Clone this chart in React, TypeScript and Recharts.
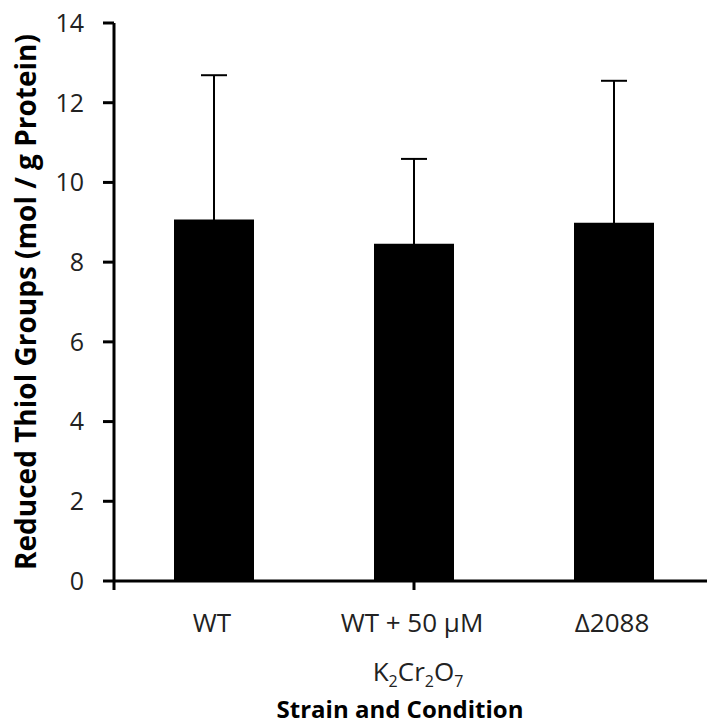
import React from "react";
import { BarChart, Bar, XAxis, YAxis, ErrorBar } from "recharts";

const categories = ["WT", "WT + 50 \u00b5M", "\u03942088"];
const secondLines = ["", "K2Cr2O7", ""];
const values = [9.07, 8.46, 8.99];
const upperBounds = [12.69, 10.59, 12.55];
const yTicks = [0, 2, 4, 6, 8, 10, 12, 14];
const edgeTicks = [0, 1, 2, 3];

const data = categories.map((c, i) => ({
  name: c,
  line2: secondLines[i],
  value: values[i],
  err: upperBounds[i] - values[i],
}));

const FONT = "'Open Sans', Lato, sans-serif";
const TEXT = "#222";

const EmptyTick = () => <g />;

const XTick = (props: any) => {
  const { x, y, payload, index } = props;
  const l2 = secondLines[index];
  return (
    <g>
      <text x={x - 2} y={y + 51} textAnchor="middle" fontFamily={FONT} fontSize={26} fill={TEXT}>
        {payload.value}
      </text>
      {l2 ? (
        <text x={x + 4} y={y + 100} textAnchor="middle" fontFamily={FONT} fontSize={26} fill={TEXT}>
          <tspan>K</tspan>
          <tspan fontSize={16} dy={6}>2</tspan>
          <tspan dy={-6}>Cr</tspan>
          <tspan fontSize={16} dy={6}>2</tspan>
          <tspan dy={-6}>O</tspan>
          <tspan fontSize={16} dy={6}>7</tspan>
        </text>
      ) : null}
    </g>
  );
};

const XTitle = (props: any) => {
  const vb = props.viewBox || {};
  const cx = vb.x + vb.width / 2 - 14;
  return (
    <text x={cx} y={vb.y + 136} textAnchor="middle" fontFamily={FONT} fontWeight="bold" fontSize={24} fill="#000">
      Strain and Condition
    </text>
  );
};

const YTitle = (props: any) => {
  const vb = props.viewBox || {};
  const x = vb.x + 36;
  const y = vb.y + vb.height / 2;
  return (
    <text x={x} y={y} transform={`rotate(-90, ${x}, ${y})`} textAnchor="middle" fontFamily={FONT} fontWeight="bold" fontSize={28} fill="#000">
      Reduced Thiol Groups (mol / g Protein)
    </text>
  );
};

export default function App() {
  return (
    <div style={{ position: "absolute", left: 0, top: 0, width: 707, height: 726, overflow: "hidden", background: "#fff" }}>
      <BarChart width={720} height={726} data={data} margin={{ top: 23, right: 6, left: 0, bottom: 0 }}>
        <XAxis
          dataKey="name"
          height={1}
          tickSize={0}
          tickMargin={0}
          tickLine={false}
          axisLine={{ stroke: "#000", strokeWidth: 3 }}
          tick={<XTick />}
          interval={0}
        />
        <XAxis
          xAxisId="edges"
          type="number"
          domain={[0, 3]}
          ticks={edgeTicks}
          interval={0}
          height={144}
          tick={<EmptyTick />}
          tickSize={8}
          axisLine={false}
          tickLine={{ stroke: "#000", strokeWidth: 3 }}
          label={<XTitle />}
        />
        <YAxis
          width={114}
          domain={[0, 14]}
          ticks={yTicks}
          interval={0}
          tickSize={11}
          tickMargin={19}
          axisLine={{ stroke: "#000", strokeWidth: 3 }}
          tickLine={{ stroke: "#000", strokeWidth: 3 }}
          tick={{ fontFamily: FONT, fontSize: 25, fill: TEXT }}
          label={<YTitle />}
        />
        <Bar dataKey="value" fill="#000" barSize={80} isAnimationActive={false}>
          <ErrorBar dataKey="err" width={13} stroke="#000" strokeWidth={2} isAnimationActive={false} />
        </Bar>
      </BarChart>
    </div>
  );
}
